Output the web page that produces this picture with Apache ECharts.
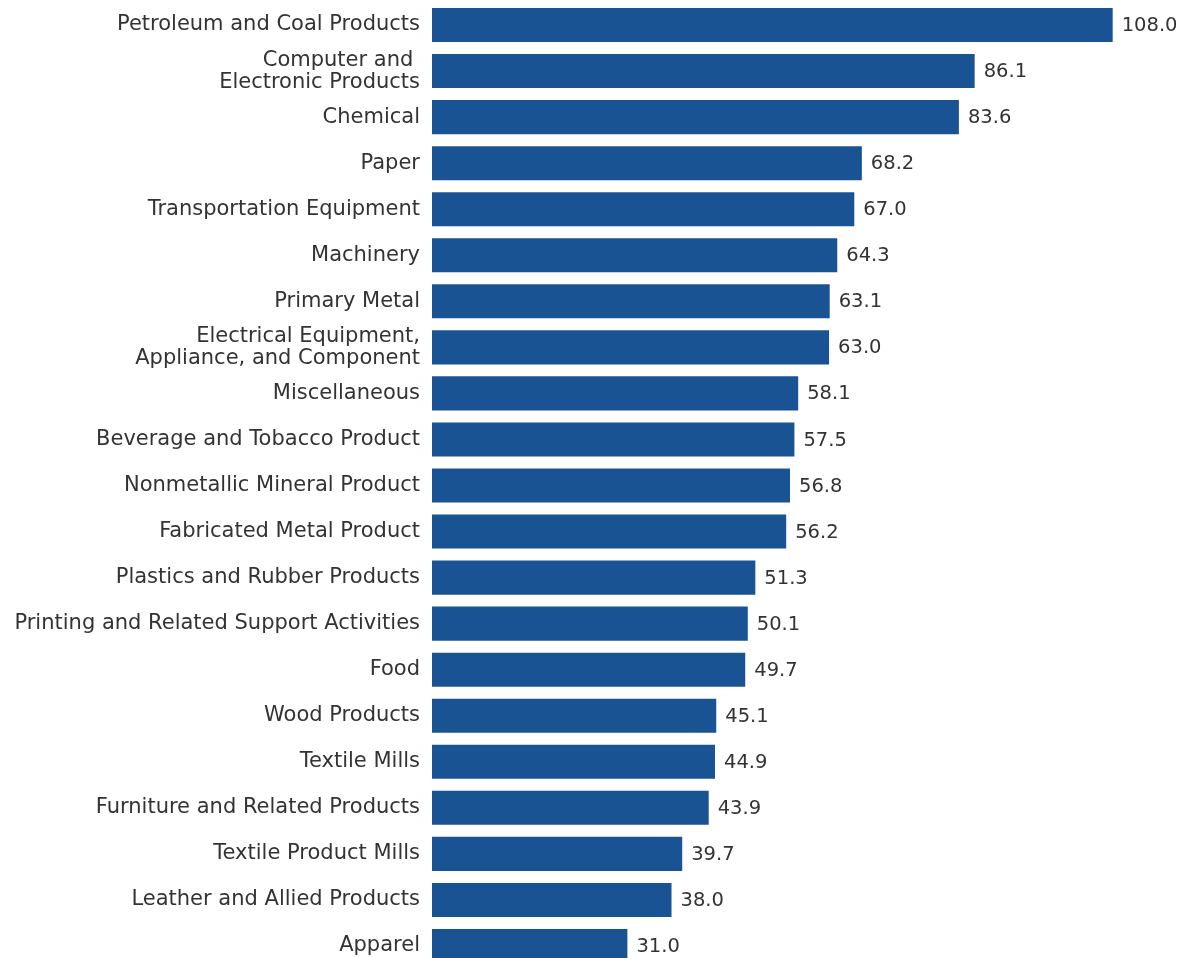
<!DOCTYPE html>
<html><head><meta charset="utf-8">
<script src="https://cdn.jsdelivr.net/npm/echarts@6/dist/echarts.min.js"></script>
<style>html,body{margin:0;padding:0;background:#fff}#c{width:1183px;height:958px}</style>
</head><body><div id="c"></div>
<script>
const categories = [
  "Petroleum and Coal Products",
  "Computer and \nElectronic Products",
  "Chemical",
  "Paper",
  "Transportation Equipment",
  "Machinery",
  "Primary Metal",
  "Electrical Equipment,\nAppliance, and Component",
  "Miscellaneous",
  "Beverage and Tobacco Product",
  "Nonmetallic Mineral Product",
  "Fabricated Metal Product",
  "Plastics and Rubber Products",
  "Printing and Related Support Activities",
  "Food",
  "Wood Products",
  "Textile Mills",
  "Furniture and Related Products",
  "Textile Product Mills",
  "Leather and Allied Products",
  "Apparel"
];
const values = [108.0, 86.1, 83.6, 68.2, 67.0, 64.3, 63.1, 63.0, 58.1, 57.5, 56.8, 56.2, 51.3, 50.1, 49.7, 45.1, 44.9, 43.9, 39.7, 38.0, 31.0];

const chart = echarts.init(document.getElementById('c'), null, {renderer: 'canvas'});
const font = "'DejaVu Sans', sans-serif";
chart.setOption({
  animation: false,
  grid: {left: 432, top: 2, width: 693.3, height: 967, containLabel: false, outerBoundsMode: 'none'},
  xAxis: {type: 'value', min: 0, max: 110, show: false},
  yAxis: {
    type: 'category', data: categories, inverse: true,
    axisLine: {show: false}, axisTick: {show: false},
    axisLabel: {color: '#333', fontSize: 21, fontFamily: font, margin: 12, lineHeight: 22, align: 'right'}
  },
  series: [{
    type: 'bar', data: values, barCategoryGap: '26%',
    itemStyle: {color: '#1A5393'},
    label: {show: true, position: 'right', distance: 9, color: '#333', fontSize: 19.5, fontFamily: font,
      offset: [0, 1], formatter: p => p.value.toFixed(1)}
  }]
});
</script></body></html>
